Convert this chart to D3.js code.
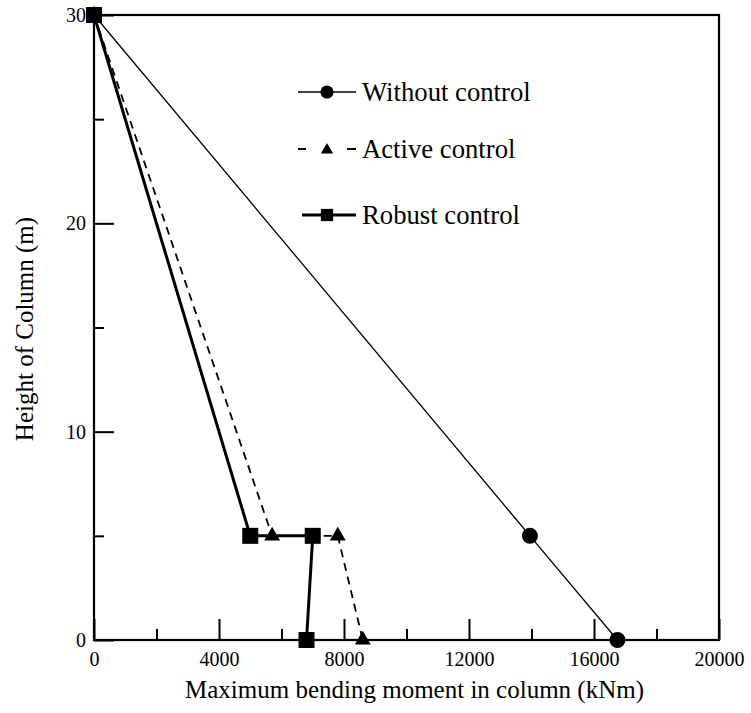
<!DOCTYPE html>
<html>
<head>
<meta charset="utf-8">
<script src="https://cdn.jsdelivr.net/npm/d3@7"></script>
<style>
  text { font-family: "Liberation Serif", "Times New Roman", Times, serif; }
</style>
</head>
<body style="margin:0;background:#fff">
<svg id="chart" width="751" height="713" style="display:block" font-family="Liberation Serif"></svg>
<script>
// Maximum bending moment (kNm) along the column height (m)
const heightsWithout = [30, 5, 0];
const momentWithout  = [0, 13950, 16750];

const heightsActive  = [30, 5, 5, 0];
const momentActive   = [0, 5700, 7800, 8600];

const heightsRobust  = [30, 5, 5, 0];
const momentRobust   = [0, 5000, 7000, 6800];

const xMajorTicks = [0, 4000, 8000, 12000, 16000, 20000];
const xMinorTicks = [2000, 6000, 10000, 14000, 18000];
const yMajorTicks = [0, 10, 20, 30];
const yMinorTicks = [5, 15, 25];

const seriesNames = ["Without control", "Active control", "Robust control"];

const svg = d3.select("#chart");
const mL = 94, mR = 719, mT = 15, mB = 640;

const x = d3.scaleLinear().domain([0, 20000]).range([mL, mR]);
const y = d3.scaleLinear().domain([0, 30]).range([mB, mT]);

// Axes with inward ticks
const gx = svg.append("g").attr("transform", `translate(0,${mB})`);
gx.call(d3.axisBottom(x).tickValues(xMajorTicks).tickFormat(d3.format("d"))
  .tickSizeInner(-21).tickSizeOuter(0).tickPadding(12));
const gxm = svg.append("g").attr("transform", `translate(0,${mB})`);
gxm.call(d3.axisBottom(x).tickValues(xMinorTicks).tickFormat("")
  .tickSizeInner(-11).tickSizeOuter(0));

const gy = svg.append("g").attr("transform", `translate(${mL},0)`);
gy.call(d3.axisLeft(y).tickValues(yMajorTicks).tickFormat(d3.format("d"))
  .tickSizeInner(-20).tickSizeOuter(0).tickPadding(8));
const gym = svg.append("g").attr("transform", `translate(${mL},0)`);
gym.call(d3.axisLeft(y).tickValues(yMinorTicks).tickFormat("")
  .tickSizeInner(-10).tickSizeOuter(0));

svg.selectAll("g").attr("font-family", null).attr("font-size", null);
svg.selectAll(".domain").remove();
svg.selectAll(".tick line").attr("stroke", "#000").attr("stroke-width", 2);
svg.selectAll(".tick text").style("font-size", "20px").attr("fill", "#000");
gx.selectAll(".tick text").attr("dy", "0.71em");

// Plot frame
svg.append("rect")
  .attr("x", mL).attr("y", mT)
  .attr("width", mR - mL).attr("height", mB - mT)
  .attr("fill", "none").attr("stroke", "#000").attr("stroke-width", 2.2);

// Axis titles
svg.append("text")
  .attr("x", (mL + mR) / 2 + 8).attr("y", 698)
  .attr("text-anchor", "middle").style("font-size", "25px")
  .text("Maximum bending moment in column (kNm)");
svg.append("text")
  .attr("transform", "translate(33,329) rotate(-90)")
  .attr("text-anchor", "middle").style("font-size", "25px")
  .text("Height of Column (m)");

const line = d3.line().x(d => x(d[0])).y(d => y(d[1]));
const zip = (xs, ys) => xs.map((v, i) => [v, ys[i]]);

const series = [
  { name: seriesNames[0], pts: zip(momentWithout, heightsWithout), width: 1.3, dash: null,  sym: d3.symbolCircle,   size: 200, lsize: 135 },
  { name: seriesNames[1], pts: zip(momentActive, heightsActive),   width: 1.8, dash: "8,6", sym: d3.symbolTriangle, size: 110, lsize: 65 },
  { name: seriesNames[2], pts: zip(momentRobust, heightsRobust),   width: 3,   dash: null,  sym: d3.symbolSquare,   size: 256, lsize: 150 }
];

series.forEach(s => {
  svg.append("path")
    .attr("d", line(s.pts))
    .attr("fill", "none").attr("stroke", "#000")
    .attr("stroke-width", s.width)
    .attr("stroke-dasharray", s.dash);
  svg.selectAll(null).data(s.pts).enter().append("path")
    .attr("transform", d => `translate(${x(d[0])},${y(d[1])})`)
    .attr("d", d3.symbol().type(s.sym).size(s.size)())
    .attr("fill", "#000");
});

// Legend
const legendRows = [92, 149, 215];
const lx0 = 298, lx1 = 356, lxm = 327;
series.forEach((s, i) => {
  const g = svg.append("g").attr("transform", `translate(0,${legendRows[i]})`);
  if (s.dash) {
    g.append("line").attr("x1", lx0).attr("x2", lx0 + 8).attr("stroke", "#000").attr("stroke-width", 2);
    g.append("line").attr("x1", lx1 - 9).attr("x2", lx1).attr("stroke", "#000").attr("stroke-width", 2);
  } else {
    g.append("line").attr("x1", i === 2 ? lx0 + 4 : lx0).attr("x2", lx1)
      .attr("stroke", "#000").attr("stroke-width", s.width);
  }
  g.append("path").attr("transform", `translate(${lxm},${i === 1 ? 1 : 0})`)
    .attr("d", d3.symbol().type(s.sym).size(s.lsize)()).attr("fill", "#000");
  g.append("text").attr("x", 362).attr("y", 0).attr("dy", "0.33em")
    .style("font-size", "26.7px").text(s.name);
});
</script>
</body>
</html>
